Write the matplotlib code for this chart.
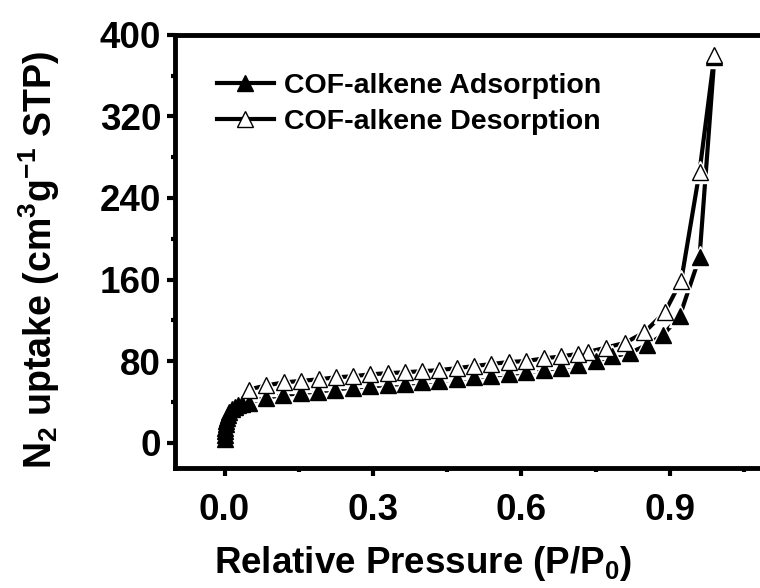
import matplotlib
matplotlib.use('Agg')
import matplotlib.pyplot as plt
from matplotlib.ticker import MultipleLocator

plt.rcParams['font.family'] = ['Liberation Sans', 'DejaVu Sans']
plt.rcParams['font.weight'] = 'bold'
plt.rcParams['mathtext.fontset'] = 'custom'
plt.rcParams['mathtext.rm'] = 'Liberation Sans:bold'
plt.rcParams['mathtext.bf'] = 'Liberation Sans:bold'
plt.rcParams['mathtext.default'] = 'bf'

# N2 isotherm data (relative pressure, uptake)
p_ads = [0.0005, 0.001, 0.0015, 0.002, 0.003, 0.004, 0.005, 0.007, 0.010, 0.015,
         0.021, 0.028, 0.036, 0.049, 0.083, 0.118, 0.154, 0.189, 0.224, 0.26,
         0.295, 0.33, 0.365, 0.40, 0.433, 0.47, 0.504, 0.539, 0.574, 0.61,
         0.645, 0.68, 0.715, 0.75, 0.784, 0.819, 0.853, 0.887, 0.92, 0.96, 0.99]
v_ads = [3, 7, 11, 14, 18, 21, 24, 27, 30, 33,
         35, 37, 38, 39, 44, 46.5, 48.5, 50, 52, 54,
         55, 56.5, 57.5, 59, 60.5, 62, 64, 65.5, 67, 69,
         71, 73.5, 76, 80, 84.5, 88, 95.5, 106, 124, 182, 378]

p_des = [0.99, 0.96, 0.923, 0.89, 0.848, 0.81, 0.77, 0.735, 0.715, 0.68,
         0.645, 0.61, 0.574, 0.539, 0.504, 0.47, 0.433, 0.40, 0.365, 0.33,
         0.295, 0.26, 0.225, 0.19, 0.155, 0.12, 0.084, 0.049]
v_des = [380, 266, 159, 128, 108, 98, 93, 89, 87, 84.5,
         82.5, 80, 79, 77, 75, 73, 71, 70, 69, 68,
         67, 65, 64, 62, 60.5, 59, 56, 52]

x_ticks = [0.0, 0.3, 0.6, 0.9]
y_ticks = [0, 80, 160, 240, 320, 400]

fig = plt.figure(figsize=(7.6, 5.88), dpi=100)
ax = fig.add_axes([0.2303, 0.2041, 0.7813, 0.7364])

ms = 11
# connecting lines
ax.plot(p_ads, v_ads, color='black', lw=3, zorder=2)
ax.plot(p_des, v_des, color='black', lw=3, zorder=2)
# white knockouts so lines stop short of the symbols
ax.plot(p_ads, v_ads, ls='none', marker='^', ms=ms + 5, mfc='white', mec='white', zorder=3)
ax.plot(p_des, v_des, ls='none', marker='^', ms=ms + 5, mfc='white', mec='white', zorder=3)
# symbols
ax.plot(p_ads, v_ads, ls='none', marker='^', ms=ms, mfc='black', mec='black', mew=1, zorder=4)
ax.plot(p_des, v_des, ls='none', marker='^', ms=ms, mfc='white', mec='black', mew=1, zorder=5)

# legend handles
h1, = ax.plot([], [], color='black', lw=3, marker='^', ms=ms, mfc='black', mec='black')
h2, = ax.plot([], [], color='black', lw=3, marker='^', ms=ms, mfc='white', mec='black', mew=1)
ax.legend([h1, h2], ['COF-alkene Adsorption', 'COF-alkene Desorption'],
          loc='upper left', bbox_to_anchor=(0.07, 0.912), frameon=False,
          borderpad=0, borderaxespad=0, handlelength=2.0, handletextpad=0.35,
          labelspacing=0.36, prop={'size': 20.5, 'weight': 'bold'})

ax.set_xlim(-0.1, 1.1)
ax.set_ylim(-25, 400)
ax.set_xticks(x_ticks)
ax.set_xticklabels(['%.1f' % t for t in x_ticks])
ax.set_yticks(y_ticks)
ax.xaxis.set_minor_locator(MultipleLocator(0.15))
ax.yaxis.set_minor_locator(MultipleLocator(40))

for s in ax.spines.values():
    s.set_linewidth(3.5)
ax.spines['right'].set_visible(False)

ax.tick_params(which='major', direction='out', length=6, width=3, labelsize=26.5)
ax.tick_params(axis='x', which='major', pad=12)
ax.tick_params(axis='y', which='major', pad=4)
ax.tick_params(which='minor', direction='out', length=3, width=3)
for lab in ax.get_xticklabels() + ax.get_yticklabels():
    lab.set_fontweight('bold')

ax.set_xlabel('Relative Pressure (P/P$_0$)', fontsize=26.5, fontweight='bold')
ax.set_ylabel('N$_2$ uptake (cm$^3$g$^{-1}$ STP)', fontsize=27, fontweight='bold')
ax.xaxis.set_label_coords(0.418, -0.175)
ax.yaxis.set_label_coords(-0.19, 0.48)

fig.savefig('out.png', dpi=100)
